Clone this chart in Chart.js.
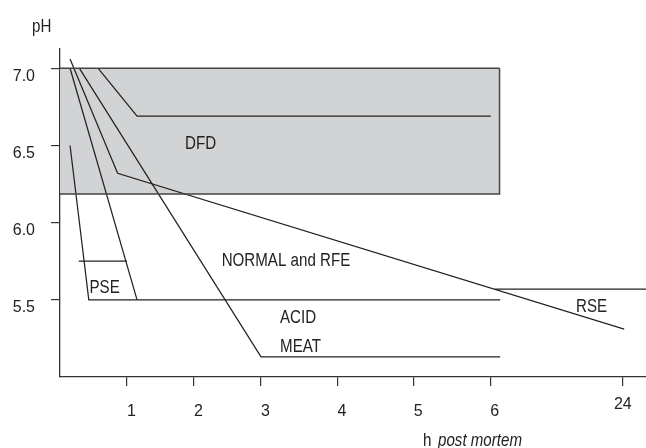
<!doctype html>
<html><head><meta charset="utf-8">
<script src="https://cdn.jsdelivr.net/npm/chart.js"></script>
<style>
html,body{margin:0;padding:0;background:#fff}
#wrap{width:646px;height:448px;position:relative}
</style>
</head><body>
<div id="wrap"><canvas id="c"></canvas></div>
<script>
// x positions are axis positions (the time axis is not linear), labels below
const xTickPos = [1, 2, 3, 4.14, 5.28, 6.42, 8.4];
const xTickLabels = ['1', '2', '3', '4', '5', '6', '24'];
const yTickVals = [5.5, 6.0, 6.5, 7.0];

// shaded DFD zone
const dfdZoneX = [0, 6.56];
const dfdZonePH = [7.0, 6.185];

// curves, [x position, pH]
const dfdCurve = [[0.57, 7.0], [1.15, 6.69], [6.43, 6.69]];
const pseCurve = [[0.15, 6.5], [0.43, 5.5], [6.57, 5.5]];
const pseMark = [[0.28, 5.75], [1.0, 5.75]];
const acidCurve = [[0.15, 7.0], [1.15, 5.5]];
const normalCurve = [[0.15, 7.06], [0.86, 6.32], [8.42, 5.31]];
const meatCurve = [[0.29, 7.0], [3.0, 5.13], [6.57, 5.13]];
const rseLevel = [[6.49, 5.57], [8.75, 5.57]];

const FONT = '"Liberation Sans", Arial, sans-serif';
const INK = '#222';
const SQUEEZE = 0.84; // the original type is a condensed face

const pts = a => a.map(p => ({ x: p[0], y: p[1] }));
const curve = (a, extra) => Object.assign({
  data: pts(a), showLine: true, pointRadius: 0, borderColor: INK,
  borderWidth: 1.25, fill: false, tension: 0
}, extra || {});

const labels = [
  { text: 'DFD', x: 1.866, y: 6.478 },
  { text: 'PSE', x: 0.44, y: 5.545 },
  { text: 'NORMAL and RFE', x: 2.413, y: 5.722 },
  { text: 'ACID', x: 3.284, y: 5.353 },
  { text: 'MEAT', x: 3.284, y: 5.165 },
  { text: 'RSE', x: 7.701, y: 5.418 }
];

function narrowText(ctx, text, x, y) {
  ctx.save();
  ctx.translate(x, y);
  ctx.scale(SQUEEZE, 1);
  ctx.fillText(text, 0, 0);
  ctx.restore();
}

const textPlugin = {
  id: 'texts',
  afterDraw(chart) {
    const { ctx, scales: { x, y } } = chart;
    ctx.save();
    ctx.fillStyle = INK;
    ctx.font = '18px ' + FONT;
    ctx.textBaseline = 'alphabetic';
    ctx.textAlign = 'left';
    labels.forEach(l => narrowText(ctx, l.text, x.getPixelForValue(l.x), y.getPixelForValue(l.y)));
    narrowText(ctx, 'pH', 32, 31.5);
    narrowText(ctx, 'h', 423, 446);
    ctx.font = 'italic 18px ' + FONT;
    narrowText(ctx, 'post mortem', 438, 446);
    // the 24 h label sits higher than the others
    ctx.font = '16px ' + FONT;
    ctx.textAlign = 'center';
    ctx.fillText(xTickLabels[6], x.getPixelForValue(xTickPos[6]), 409);
    ctx.restore();
  }
};

new Chart(document.getElementById('c'), {
  type: 'scatter',
  data: {
    datasets: [
      curve([[dfdZoneX[0], dfdZonePH[0]], [dfdZoneX[1], dfdZonePH[0]]], {
        borderColor: '#444', borderWidth: 1.5,
        fill: { target: { value: dfdZonePH[1] }, above: '#d2d3d5', below: '#d2d3d5' }
      }),
      curve([[dfdZoneX[0], dfdZonePH[1]], [dfdZoneX[1], dfdZonePH[1]], [dfdZoneX[1], dfdZonePH[0]]], {
        borderColor: '#444', borderWidth: 1.5
      }),
      curve(dfdCurve),
      curve(pseCurve),
      curve(pseMark),
      curve(acidCurve),
      curve(normalCurve),
      curve(meatCurve),
      curve(rseLevel)
    ]
  },
  options: {
    responsive: true,
    maintainAspectRatio: false,
    animation: false,
    layout: { padding: { top: 49, right: 0, left: 0, bottom: 0 } },
    plugins: {
      legend: { display: false },
      tooltip: { enabled: false },
      filler: { drawTime: 'beforeDatasetsDraw' }
    },
    scales: {
      x: {
        type: 'linear', min: 0, max: 8.746,
        afterBuildTicks: s => { s.ticks = xTickPos.map(v => ({ value: v })); },
        afterFit: s => { s.height = 71; },
        grid: { drawOnChartArea: false, drawTicks: true, tickLength: 9, color: '#333', lineWidth: 1.2 },
        border: { display: true, color: '#333', width: 1.3 },
        ticks: {
          autoSkip: false, maxRotation: 0, align: 'start', padding: 16,
          color: INK, font: { family: FONT, size: 16 },
          callback: (v, i) => (i < 6 ? xTickLabels[i] : '')
        }
      },
      y: {
        type: 'linear', min: 5.0, max: 7.125,
        afterBuildTicks: s => { s.ticks = yTickVals.map(v => ({ value: v })); },
        afterFit: s => { s.width = 60; },
        grid: { drawOnChartArea: false, drawTicks: true, tickLength: 9, color: '#333', lineWidth: 1.2 },
        border: { display: true, color: '#333', width: 1.3 },
        ticks: {
          padding: 16, labelOffset: 8, color: INK, font: { family: FONT, size: 16 },
          callback: v => v.toFixed(1)
        }
      }
    }
  },
  plugins: [textPlugin]
});
</script>
</body></html>
